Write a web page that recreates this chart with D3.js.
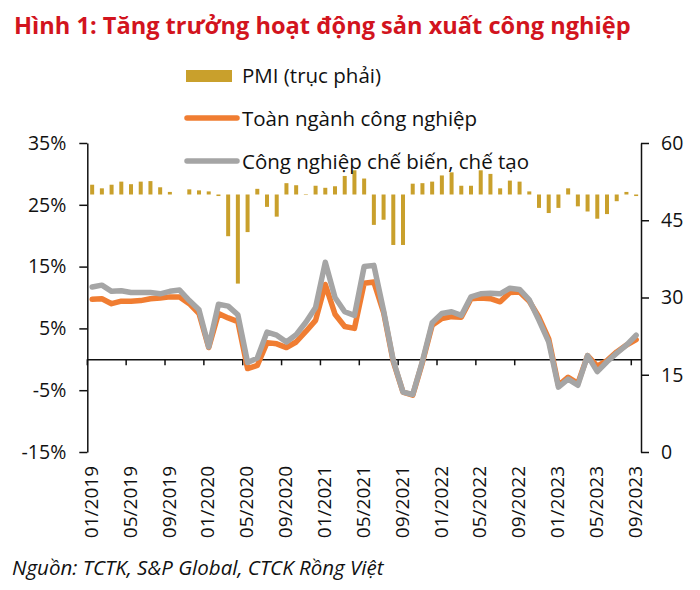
<!DOCTYPE html>
<html>
<head>
<meta charset="utf-8">
<script src="https://cdn.jsdelivr.net/npm/d3@7/dist/d3.min.js"></script>
<style>
  body { margin: 0; background: #fff; }
  text { font-family: "Open Sans", sans-serif; fill: #111; }
</style>
</head>
<body>
<div id="chartArea"></div>
<script>
var months = [
    '01/2019','02/2019','03/2019','04/2019','05/2019','06/2019','07/2019','08/2019','09/2019','10/2019','11/2019','12/2019',
    '01/2020','02/2020','03/2020','04/2020','05/2020','06/2020','07/2020','08/2020','09/2020','10/2020','11/2020','12/2020',
    '01/2021','02/2021','03/2021','04/2021','05/2021','06/2021','07/2021','08/2021','09/2021','10/2021','11/2021','12/2021',
    '01/2022','02/2022','03/2022','04/2022','05/2022','06/2022','07/2022','08/2022','09/2022','10/2022','11/2022','12/2022',
    '01/2023','02/2023','03/2023','04/2023','05/2023','06/2023','07/2023','08/2023','09/2023'
];

// PMI (right axis), bars drawn from the 50 line
var pmi = [
    51.9, 51.2, 51.9, 52.5, 52.0, 52.5, 52.6, 51.4, 50.5, 50.0, 51.0, 50.8,
    50.6, 49.7, 41.9, 32.7, 42.7, 51.1, 47.6, 45.7, 52.2, 51.8, 49.9, 51.7,
    51.3, 51.6, 53.6, 54.7, 53.1, 44.1, 45.1, 40.2, 40.2, 52.1, 52.2, 52.5,
    53.7, 54.3, 51.7, 51.7, 54.7, 54.0, 51.2, 52.7, 52.5, 50.6, 47.4, 46.4,
    47.4, 51.2, 47.7, 46.7, 45.3, 46.2, 48.7, 50.5, 49.7
];

// Toàn ngành công nghiệp (% yoy)
var total = [
    9.7, 9.8, 9.0, 9.4, 9.4, 9.5, 9.8, 9.9, 10.1, 10.1, 9.0, 7.4,
    1.9, 7.4, 6.7, 6.1, -1.5, -1.0, 2.7, 2.5, 1.9, 2.8, 4.5, 6.3,
    12.1, 7.3, 5.3, 5.0, 12.3, 12.5, 7.6, -0.4, -5.3, -5.8, -0.5, 5.5,
    6.6, 6.9, 6.8, 9.8, 9.9, 9.8, 9.3, 10.8, 10.9, 9.4, 6.8, 3.3,
    -4.2, -2.9, -3.9, 0.6, -1.1, -0.2, 1.2, 2.3, 3.2
];

// Công nghiệp chế biến, chế tạo (% yoy)
var manuf = [
    11.7, 12.0, 11.0, 11.1, 10.8, 10.8, 10.8, 10.6, 11.0, 11.2, 9.5, 8.0,
    2.0, 8.9, 8.6, 7.2, -0.5, 0.2, 4.4, 3.9, 2.8, 4.0, 6.0, 8.4,
    15.7, 10.0, 7.7, 7.1, 15.0, 15.2, 7.9, -0.2, -5.3, -5.7, -0.3, 5.9,
    7.4, 7.7, 7.1, 10.1, 10.6, 10.7, 10.6, 11.5, 11.3, 9.6, 6.3, 2.8,
    -4.5, -3.2, -4.2, 0.6, -2.0, -0.4, 1.0, 2.3, 3.9
];

var leftTicks = [-15, -5, 5, 15, 25, 35];
var rightTicks = [0, 15, 30, 45, 60];
var legendLabels = ['PMI (trục phải)', 'Toàn ngành công nghiệp', 'Công nghiệp chế biến, chế tạo'];

var w = 700, h = 590;
var plotL = 87.3, plotR = 641, plotT = 143, plotB = 452;

var svg = d3.select('#chartArea').append('svg')
    .attr('width', w)
    .attr('height', h);

var xScale = d3.scaleBand()
    .domain(months)
    .range([plotL, plotR])
    .padding(0);

var bw = xScale.bandwidth();
var cx = function (m) { return xScale(m) + bw / 2; };

var yLeft = d3.scaleLinear().domain([-15, 35]).range([plotB, plotT]);
var yRight = d3.scaleLinear().domain([0, 60]).range([plotB, plotT]);

// title
svg.append('text')
    .attr('x', 14)
    .attr('y', 34)
    .style('font-size', '23.6px')
    .style('font-weight', 'bold')
    .style('fill', '#d2141e')
    .text('Hình 1: Tăng trưởng hoạt động sản xuất công nghiệp');

// PMI bars
svg.append('g').selectAll('rect')
    .data(pmi)
    .enter()
    .append('rect')
    .attr('x', function (d, i) { return cx(months[i]) - 2; })
    .attr('width', 4)
    .attr('y', function (d) { return Math.min(yRight(d), yRight(50)); })
    .attr('height', function (d) { return Math.abs(yRight(d) - yRight(50)); })
    .attr('fill', '#c9a02c');

// category axis on the zero line
var xAxis = d3.axisBottom(xScale)
    .tickValues(months.filter(function (m, i) { return i % 4 === 0; }))
    .tickSize(6)
    .tickSizeOuter(0)
    .tickFormat('');

var gx = svg.append('g')
    .attr('transform', 'translate(0,' + yLeft(0) + ')')
    .call(xAxis);
gx.select('.domain').attr('stroke', '#111').attr('stroke-width', 1.5);
gx.selectAll('.tick line')
    .attr('x1', -bw / 2).attr('x2', -bw / 2)
    .attr('stroke', '#111').attr('stroke-width', 1.5);

svg.append('g').selectAll('text')
    .data(months.filter(function (m, i) { return i % 4 === 0; }))
    .enter()
    .append('text')
    .attr('transform', function (d) { return 'translate(' + (cx(d) - 1) + ',466) rotate(-90)'; })
    .attr('text-anchor', 'end')
    .attr('dy', '0.35em')
    .style('font-size', '19px')
    .text(function (d) { return d; });

// left axis
var gl = svg.append('g')
    .attr('transform', 'translate(' + plotL + ',0)')
    .call(d3.axisLeft(yLeft).tickValues(leftTicks).tickSize(8).tickSizeOuter(0)
        .tickPadding(13)
        .tickFormat(function (d) { return d + '%'; }));

// right axis
var gr = svg.append('g')
    .attr('transform', 'translate(' + plotR + ',0)')
    .call(d3.axisRight(yRight).tickValues(rightTicks).tickSize(8).tickSizeOuter(0)
        .tickPadding(12));

[gl, gr].forEach(function (g) {
    g.select('.domain').attr('stroke', '#111').attr('stroke-width', 1.5);
    g.selectAll('.tick line').attr('stroke', '#111').attr('stroke-width', 1.5);
    g.selectAll('.tick text').style('font-size', '19.5px').style('font-family', '"Open Sans", sans-serif').attr('fill', '#111');
});

// lines
var line = d3.line()
    .x(function (d, i) { return cx(months[i]); })
    .y(function (d) { return yLeft(d); });

svg.append('path')
    .datum(total)
    .attr('d', line)
    .attr('fill', 'none')
    .attr('stroke', '#f07d32')
    .attr('stroke-width', 5.5)
    .attr('stroke-linejoin', 'round')
    .attr('stroke-linecap', 'round');

svg.append('path')
    .datum(manuf)
    .attr('d', line)
    .attr('fill', 'none')
    .attr('stroke', '#a5a5a5')
    .attr('stroke-width', 5.5)
    .attr('stroke-linejoin', 'round')
    .attr('stroke-linecap', 'round');

// legend
var lg = svg.append('g');
lg.append('rect')
    .attr('x', 186).attr('y', 70).attr('width', 46).attr('height', 12)
    .attr('fill', '#c9a02c');
lg.append('line')
    .attr('x1', 187).attr('x2', 237).attr('y1', 118).attr('y2', 118)
    .attr('stroke', '#f07d32').attr('stroke-width', 5.5).attr('stroke-linecap', 'round');
lg.append('line')
    .attr('x1', 187).attr('x2', 237).attr('y1', 161).attr('y2', 161)
    .attr('stroke', '#a5a5a5').attr('stroke-width', 5.5).attr('stroke-linecap', 'round');
lg.selectAll('text.leg')
    .data(legendLabels)
    .enter()
    .append('text')
    .attr('class', 'leg')
    .attr('x', 242)
    .attr('y', function (d, i) { return 83 + i * 43; })
    .style('font-size', '20.5px')
    .text(function (d) { return d; });

// source
svg.append('text')
    .attr('x', 12)
    .attr('y', 575)
    .style('font-size', '20.5px')
    .style('font-style', 'italic')
    .text('Nguồn: TCTK, S&P Global, CTCK Rồng Việt');
</script>
</body>
</html>
